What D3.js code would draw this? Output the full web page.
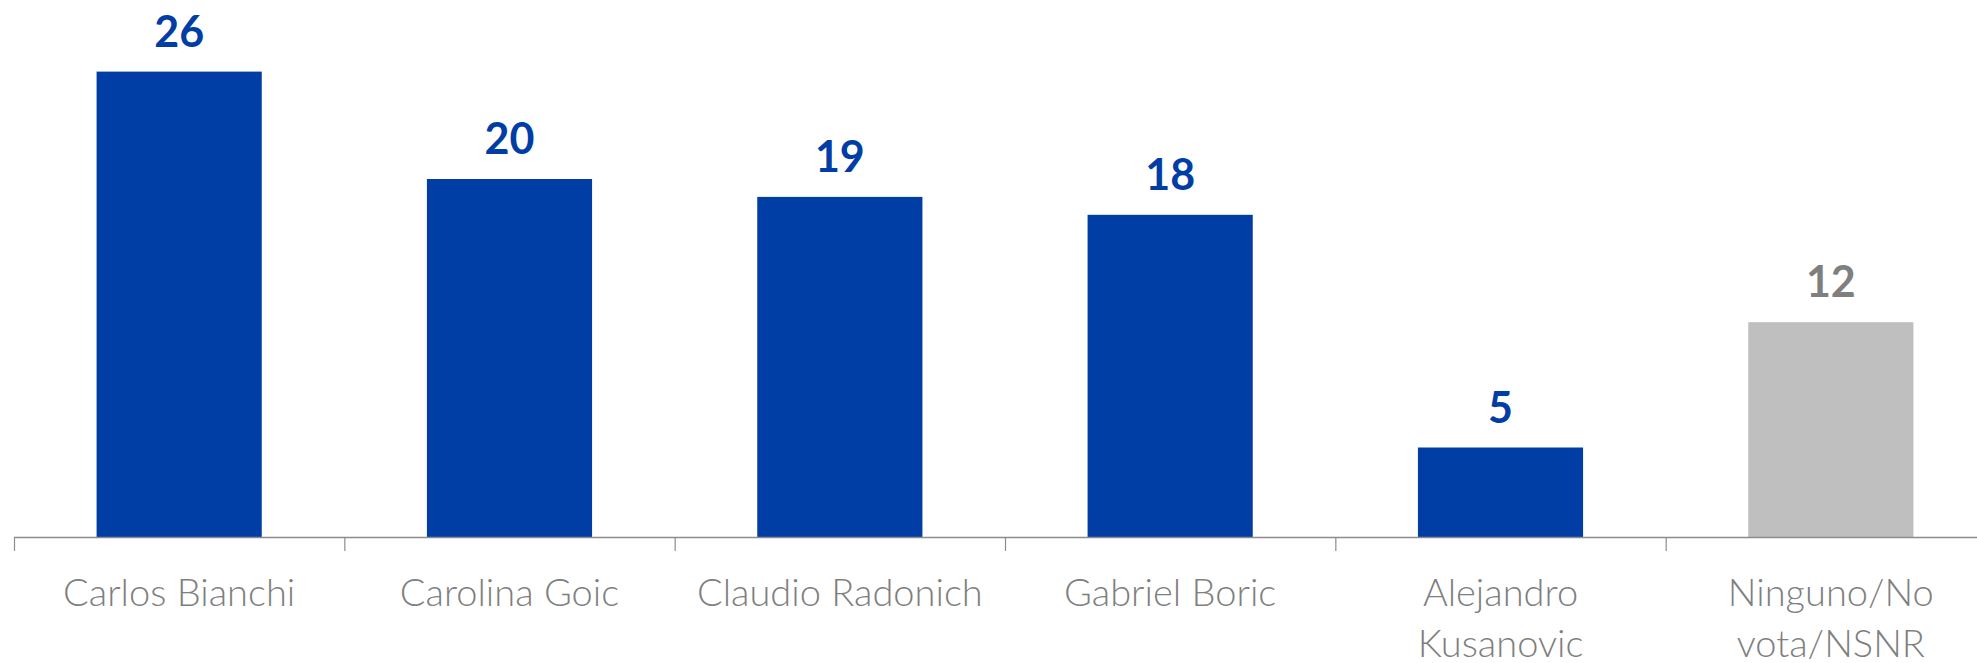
<!DOCTYPE html>
<html>
<head>
<meta charset="utf-8">
<script src="https://cdn.jsdelivr.net/npm/d3@7"></script>
<style>
  html, body { margin: 0; padding: 0; background: #fff; }
  svg { display: block; }
</style>
</head>
<body>
<svg id="canvas"></svg>
<script>
let categories = ['Carlos Bianchi', 'Carolina Goic', 'Claudio Radonich', 'Gabriel Boric', 'Alejandro Kusanovic', 'Ninguno/No vota/NSNR']
let values = [26, 20, 19, 18, 5, 12]
let isOther = [false, false, false, false, false, true]

let width = 1977
let height = 663
let baseline = 537

let blue = '#003DA5'
let grey = '#BFBFBF'
let greyText = '#7F7F7F'
let axisColor = '#8C8C8C'

let canvas = d3.select('#canvas')
               .attr('width', width)
               .attr('height', height)

let xScale = d3.scaleBand()
               .domain(categories)
               .range([14, 1996])
               .paddingInner(0.5)
               .paddingOuter(0.25)

let yScale = d3.scaleLinear()
               .domain([0, 30])
               .range([baseline, 0])

// bars
canvas.selectAll('rect.bar')
      .data(categories)
      .enter()
      .append('rect')
      .attr('class', 'bar')
      .attr('x', (d) => xScale(d))
      .attr('width', xScale.bandwidth())
      .attr('y', (d, i) => yScale(values[i]))
      .attr('height', (d, i) => baseline - yScale(values[i]))
      .attr('fill', (d, i) => isOther[i] ? grey : blue)

// value labels
canvas.selectAll('text.value')
      .data(categories)
      .enter()
      .append('text')
      .attr('class', 'value')
      .attr('x', (d) => xScale(d) + xScale.bandwidth() / 2)
      .attr('y', (d, i) => yScale(values[i]) - 25)
      .attr('text-anchor', 'middle')
      .style('font-family', 'Lato, "Open Sans", sans-serif')
      .style('font-weight', 'bold')
      .style('font-size', '43px')
      .attr('fill', (d, i) => isOther[i] ? greyText : blue)
      .text((d, i) => values[i])

// category axis: line with ticks at band boundaries
let step = xScale.step()
let start = xScale.range()[0]
canvas.append('line')
      .attr('x1', start)
      .attr('x2', width)
      .attr('y1', baseline + 0.5)
      .attr('y2', baseline + 0.5)
      .attr('stroke', axisColor)
      .attr('stroke-width', 1.5)

canvas.selectAll('line.tick')
      .data(d3.range(categories.length + 1))
      .enter()
      .append('line')
      .attr('class', 'tick')
      .attr('x1', (i) => start + i * step + 0.5)
      .attr('x2', (i) => start + i * step + 0.5)
      .attr('y1', baseline)
      .attr('y2', baseline + 14)
      .attr('stroke', axisColor)
      .attr('stroke-width', 1.2)

// category labels, wrapped to fit one step
let labels = canvas.selectAll('text.cat')
      .data(categories)
      .enter()
      .append('text')
      .attr('class', 'cat')
      .attr('x', (d) => xScale(d) + xScale.bandwidth() / 2)
      .attr('y', 606)
      .attr('text-anchor', 'middle')
      .style('font-family', 'Lato, "Open Sans", sans-serif')
      .style('font-weight', 300)
      .style('font-size', '38px')
      .attr('fill', greyText)

labels.each(function (d) {
    let text = d3.select(this)
    let words = d.split(' ')
    let lines = []
    let line = []
    let tspan = text.append('tspan')
    words.forEach((w) => {
        line.push(w)
        tspan.text(line.join(' '))
        if (tspan.node().getComputedTextLength() > step - 10 && line.length > 1) {
            line.pop()
            lines.push(line.join(' '))
            line = [w]
        }
        tspan.text(line.join(' '))
    })
    lines.push(line.join(' '))
    tspan.remove()
    let x = text.attr('x')
    lines.forEach((l, i) => {
        text.append('tspan')
            .attr('x', x)
            .attr('dy', i === 0 ? 0 : 51)
            .text(l)
    })
})
</script>
</body>
</html>
